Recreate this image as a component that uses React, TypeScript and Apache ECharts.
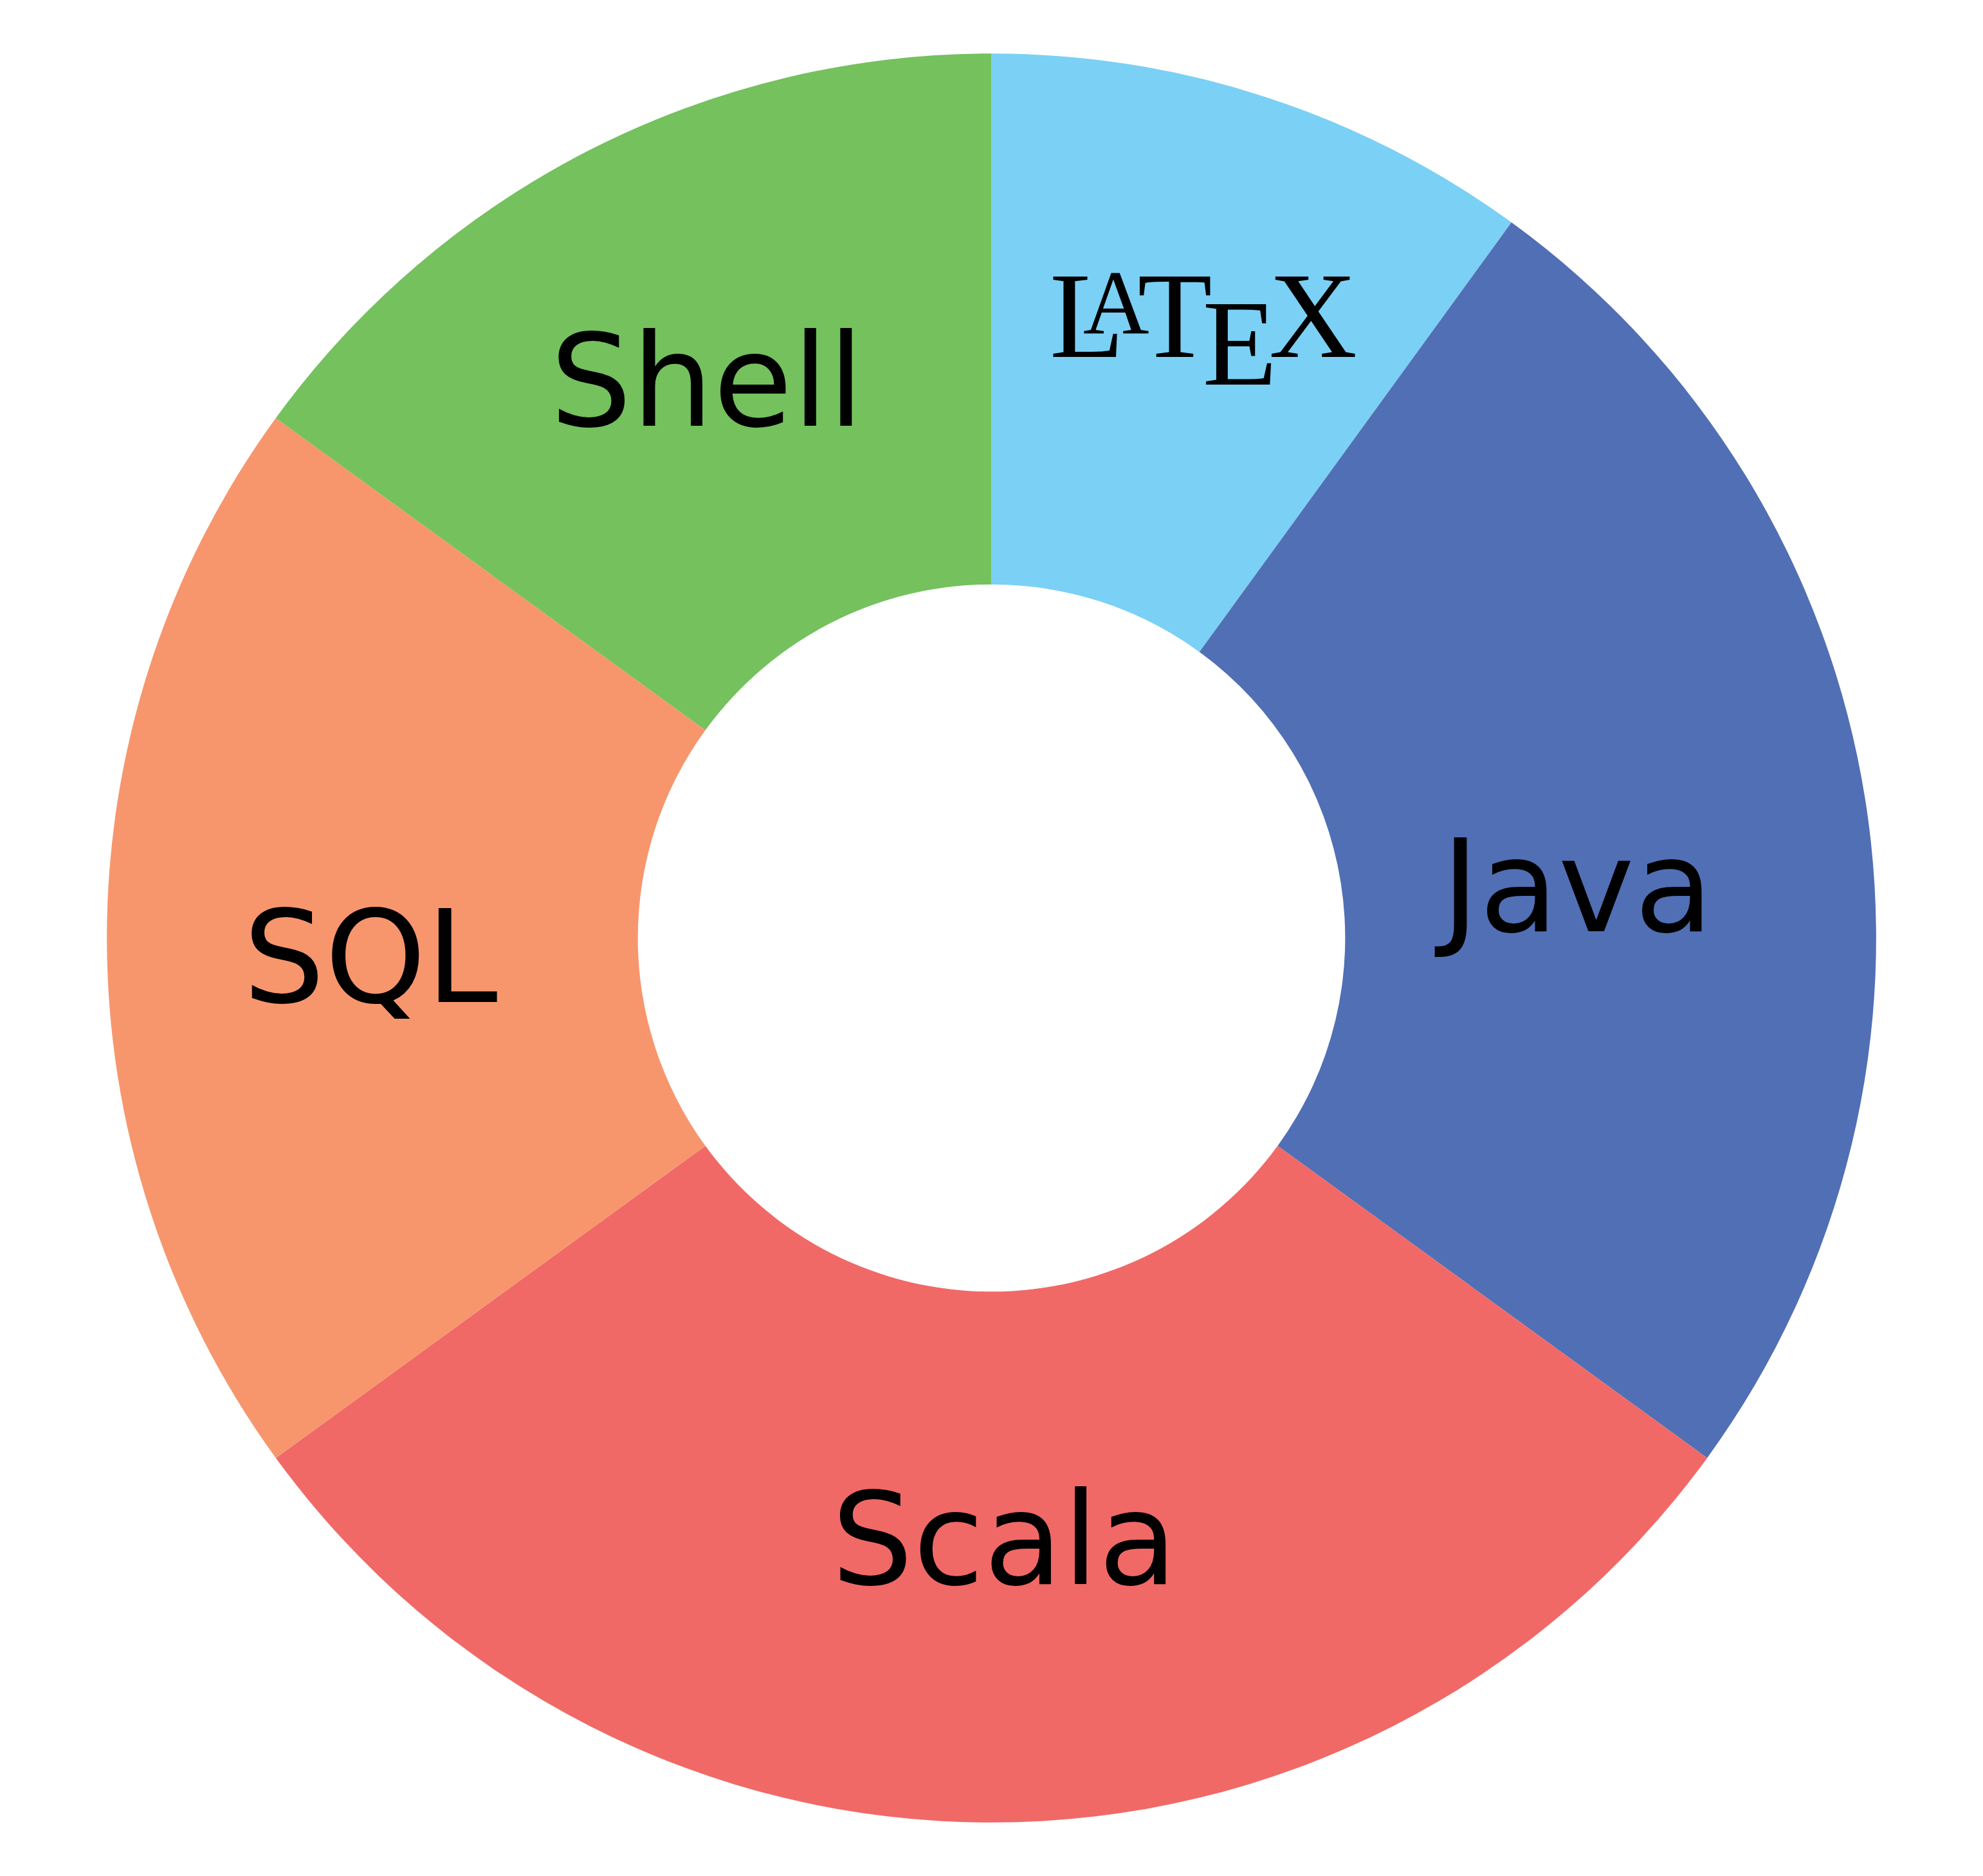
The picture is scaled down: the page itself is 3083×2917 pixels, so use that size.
import React, { useEffect, useRef } from "react";
import * as echarts from "echarts";

const categories = ["LaTeX", "Java", "Scala", "SQL", "Shell"];
const values = [10, 25, 30, 20, 15];
const colors = ["#7BD0F5", "#516FB5", "#F06966", "#F7966D", "#74C15E"];
// fine placement of each slice label, in pixels [dx, dy]
const labelOffsets: number[][] = [
  [31, -49],
  [-43, 71],
  [20, -31],
  [0, 30],
  [-4, -6],
];

export default function App() {
  const ref = useRef<HTMLDivElement>(null);
  useEffect(() => {
    if (!ref.current) return;
    const chart = echarts.init(ref.current, undefined, { renderer: "svg" });
    const data = categories.map((name, i) => ({
      name,
      value: values[i],
      itemStyle: { color: colors[i] },
      label: { offset: labelOffsets[i] },
    }));
    chart.setOption({
      animation: false,
      backgroundColor: "#ffffff",
      series: [
        {
          type: "pie",
          center: ["50%", "50%"],
          radius: ["37.7%", "94.3%"],
          startAngle: 90,
          clockwise: true,
          silent: true,
          emphasis: { disabled: true },
          itemStyle: { borderWidth: 0 },
          label: {
            show: true,
            position: "inside",
            color: "#000000",
            fontFamily: "DejaVu Sans",
            fontSize: 200,
            textBorderWidth: 0,
            formatter: (p: any) =>
              p.name === "LaTeX"
                ? "{l|L}{a|A}{t|T}{e|E}{x|X}"
                : p.name,
            rich: {
              l: { fontFamily: "Liberation Serif", fontSize: 190, color: "#000", padding: [0, -64, 0, 0] },
              a: { fontFamily: "Liberation Serif", fontSize: 142, color: "#000", padding: [0, -18, 42, 0] },
              t: { fontFamily: "Liberation Serif", fontSize: 190, color: "#000", padding: [0, -15, 0, 0] },
              e: { fontFamily: "Liberation Serif", fontSize: 190, color: "#000", padding: [86, -13, 0, 0] },
              x: { fontFamily: "Liberation Serif", fontSize: 190, color: "#000" },
            },
          },
          labelLine: { show: false },
          data,
        },
      ],
    });
    return () => chart.dispose();
  }, []);
  return (
    <div
      ref={ref}
      style={{ position: "absolute", left: 0, top: 0, width: 3083, height: 2917 }}
    />
  );
}
